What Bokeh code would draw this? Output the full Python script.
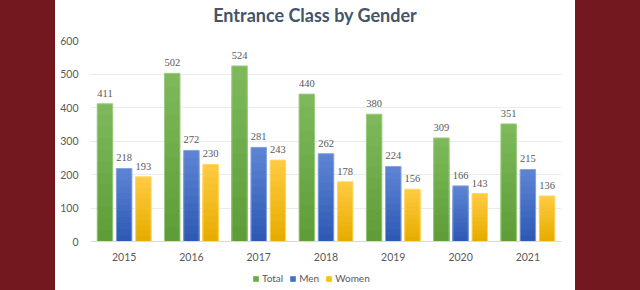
from bokeh.plotting import figure
from bokeh.models import ColumnDataSource, FactorRange, Legend, LegendItem, Spacer, LabelSet, Range1d, Div
from bokeh.layouts import row, column
from bokeh.transform import dodge
from bokeh.embed import file_html
from bokeh.resources import INLINE

years = ["2015", "2016", "2017", "2018", "2019", "2020", "2021"]
total = [411, 502, 524, 440, 380, 309, 351]
men = [218, 272, 281, 262, 224, 166, 215]
women = [193, 230, 243, 178, 156, 143, 136]
y_ticks = [0, 100, 200, 300, 400, 500, 600]

series_names = ["Total", "Men", "Women"]
series_values = [total, men, women]
fills = ["#6AAB45", "#4170C6", "#FFC000"]
tops_col = ["#7DB95B", "#5C83D3", "#FFCA40"]
bottoms_col = ["#5E9D37", "#2F5AB4", "#E6AD00"]
edges = ["#9CCB80", "#86A3DE", "#FFD766"]
offsets = [-0.285, 0.0, 0.285]
N_SHADES = 12

FONT = "Lato"
MAROON = "#741820"
TITLE = "Entrance Class by Gender"


def mix(c1, c2, t):
    a = [int(c1[i:i + 2], 16) for i in (1, 3, 5)]
    b = [int(c2[i:i + 2], 16) for i in (1, 3, 5)]
    return "#" + "".join("%02x" % round(x + (y - x) * t) for x, y in zip(a, b))


data = dict(year=years)
for name, vals in zip(series_names, series_values):
    data[name] = vals
    data[name + "_lbl"] = [str(v) for v in vals]
    for k in range(N_SHADES):
        data["%s_s%d" % (name, k)] = [v * (N_SHADES - k) / N_SHADES for v in vals]
source = ColumnDataSource(data=data)

p = figure(width=520, height=235, x_range=FactorRange(factors=years, range_padding=0),
           y_range=Range1d(0, 600), output_backend="svg", toolbar_location=None,
           min_border_left=35, min_border_right=14, min_border_top=8, min_border_bottom=26)
p.outline_line_color = None
p.background_fill_color = "white"
p.border_fill_color = "white"

for name, tc, bc, ec, off in zip(series_names, tops_col, bottoms_col, edges, offsets):
    xpos = dodge("year", off, range=p.x_range)
    # vertical gradient: overlapping bars from full height down, lighter at top
    for k in range(N_SHADES):
        col = mix(tc, bc, k / (N_SHADES - 1))
        p.vbar(x=xpos, top="%s_s%d" % (name, k), width=0.23, source=source,
               fill_color=col, line_color=None)
    p.vbar(x=xpos, top=name, width=0.23, source=source,
           fill_color=None, line_color=ec, line_width=1)
    lbl = LabelSet(x=xpos, y=name, text=name + "_lbl", source=source,
                   text_align="center", text_baseline="bottom", y_offset=7,
                   text_font=FONT, text_font_size="10.5px", text_color="#595959")
    p.add_layout(lbl)

p.yaxis.ticker = y_ticks
p.yaxis.axis_line_color = None
p.yaxis.major_tick_line_color = None
p.yaxis.minor_tick_line_color = None
p.yaxis.major_label_text_font = FONT
p.yaxis.major_label_text_font_size = "10.5px"
p.yaxis.major_label_text_color = "#595959"
p.yaxis.major_label_standoff = 6

p.xaxis.axis_line_color = "#D9D9D9"
p.xaxis.major_tick_line_color = None
p.xaxis.minor_tick_line_color = None
p.xaxis.major_label_text_font = FONT
p.xaxis.major_label_text_font_size = "10.5px"
p.xaxis.major_label_text_color = "#595959"
p.xaxis.major_label_standoff = 5

p.xgrid.grid_line_color = None
p.ygrid.grid_line_color = "#EBEBEB"
p.ygrid.grid_line_width = 1

# legend strip below the chart (zero-height bars that only feed the legend)
lg = figure(width=520, height=23, output_backend="svg", toolbar_location=None,
            x_range=FactorRange(factors=years, range_padding=0), y_range=Range1d(0, 1),
            min_border=0, min_border_left=0, min_border_right=0, min_border_top=0, min_border_bottom=0)
lg.axis.visible = False
lg.grid.visible = False
lg.outline_line_color = None
lg.border_fill_color = "white"
items = []
for name, fc in zip(series_names, fills):
    r = lg.vbar(x="year", top=0, bottom=0, width=0.01, source=source, fill_color=fc, line_color=None)
    items.append(LegendItem(label=name, renderers=[r]))
legend = Legend(items=items, orientation="horizontal", location=(162, 6),
                border_line_color=None, background_fill_alpha=0,
                glyph_width=7, glyph_height=7, label_height=10, label_standoff=3,
                spacing=6, padding=0, margin=0,
                label_text_font=FONT, label_text_font_size="10px", label_text_color="#595959")
lg.add_layout(legend)

title = Div(text=TITLE, width=520, height=32, margin=0,
            styles={"font-family": FONT, "font-size": "18px", "font-weight": "bold",
                    "color": "#44546A", "text-align": "center", "background-color": "white",
                    "padding-top": "5px", "box-sizing": "border-box", "line-height": "1.2"})

left = Spacer(width=55, height=290, margin=0, styles={"background-color": MAROON})
right = Spacer(width=65, height=290, margin=0, styles={"background-color": MAROON})
layout = row(left, column(title, p, lg, spacing=0), right, spacing=0)

open("out.html", "w").write(file_html(layout, INLINE))
